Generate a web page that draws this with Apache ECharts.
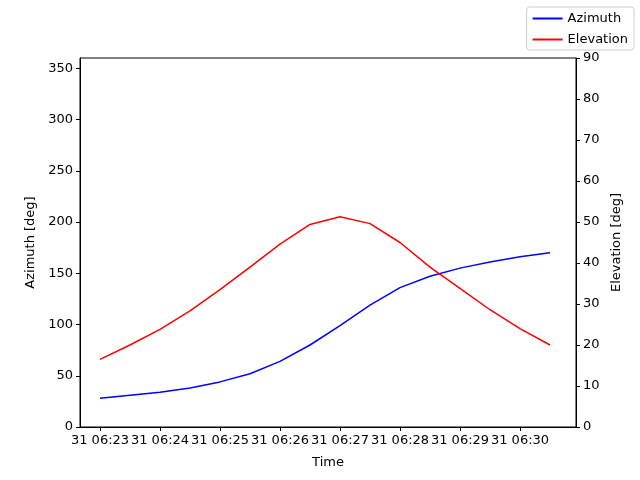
<!DOCTYPE html>
<html><head><meta charset="utf-8">
<script src="https://cdn.jsdelivr.net/npm/echarts@6/dist/echarts.min.js"></script>
<style>html,body{margin:0;padding:0;background:#fff}#c{width:640px;height:480px}</style>
</head><body><div id="c"></div>
<script>
// seconds after 31 06:23:00
const times = [0,30,60,90,120,150,180,210,240,270,300,330,360,390,420,450];
const azimuth = [28,31,34,38,44,52,64,80,99,119,136,147,155,161,166,170];
const elevation = [16.5,20,23.8,28.3,33.5,39,44.6,49.4,51.3,49.6,45,39,33.8,28.6,24,20];
const tickValues = [0,60,120,180,240,300,360,420];
const tickLabels = ['31 06:23','31 06:24','31 06:25','31 06:26','31 06:27','31 06:28','31 06:29','31 06:30'];

const font = {fontFamily:'DejaVu Sans', fontSize:13, color:'#000'};
const chart = echarts.init(document.getElementById('c'));
chart.setOption({
  animation:false,
  textStyle:{fontFamily:'DejaVu Sans'},
  legend:{right:6, top:7, orient:'vertical', itemWidth:30, itemHeight:2, itemGap:8,
    borderColor:'#ccc', borderWidth:1, borderRadius:3, padding:[5,6,4,6],
    textStyle:{fontFamily:'DejaVu Sans', fontSize:13, color:'#000'},
    data:[{name:'Azimuth', icon:'rect'},{name:'Elevation', icon:'rect'}]},
  grid:{left:80, right:64, top:58, bottom:53, show:true, borderColor:'#000', borderWidth:1, containLabel:false},
  xAxis:{type:'value', min:-20, max:476, name:'Time', nameLocation:'middle', nameGap:29,
    nameTextStyle:font,
    axisLine:{show:true, onZero:false, lineStyle:{color:'#000'}},
    axisTick:{show:true, customValues:tickValues, length:4, lineStyle:{color:'#000'}},
    axisLabel:{customValues:tickValues, ...font, margin:7,
      formatter:v=>{const i=tickValues.indexOf(v);return i>=0?tickLabels[i]:'';}},
    splitLine:{show:false}},
  yAxis:[
    {type:'value', min:0, max:360, interval:50, name:'Azimuth [deg]', nameLocation:'middle', nameGap:43,
      nameTextStyle:font, axisLine:{show:true, onZero:false, lineStyle:{color:'#000'}},
      axisTick:{show:true, length:4, lineStyle:{color:'#000'}},
      axisLabel:{...font, margin:7, showMaxLabel:false}, splitLine:{show:false}},
    {type:'value', min:0, max:90, interval:10, name:'Elevation [deg]', nameLocation:'middle', nameGap:33,
      nameRotate:90,
      nameTextStyle:font, position:'right', axisLine:{show:true, onZero:false, lineStyle:{color:'#000'}},
      axisTick:{show:true, length:4, lineStyle:{color:'#000'}}, axisLabel:{...font, margin:7}, splitLine:{show:false}}
  ],
  series:[
    {name:'Azimuth', type:'line', yAxisIndex:0, showSymbol:false, color:'#0000ff', lineStyle:{width:1.5},
      data:times.map((t,i)=>[t,azimuth[i]])},
    {name:'Elevation', type:'line', yAxisIndex:1, showSymbol:false, color:'#ff0000', lineStyle:{width:1.5},
      data:times.map((t,i)=>[t,elevation[i]])}
  ]
});
</script></body></html>
